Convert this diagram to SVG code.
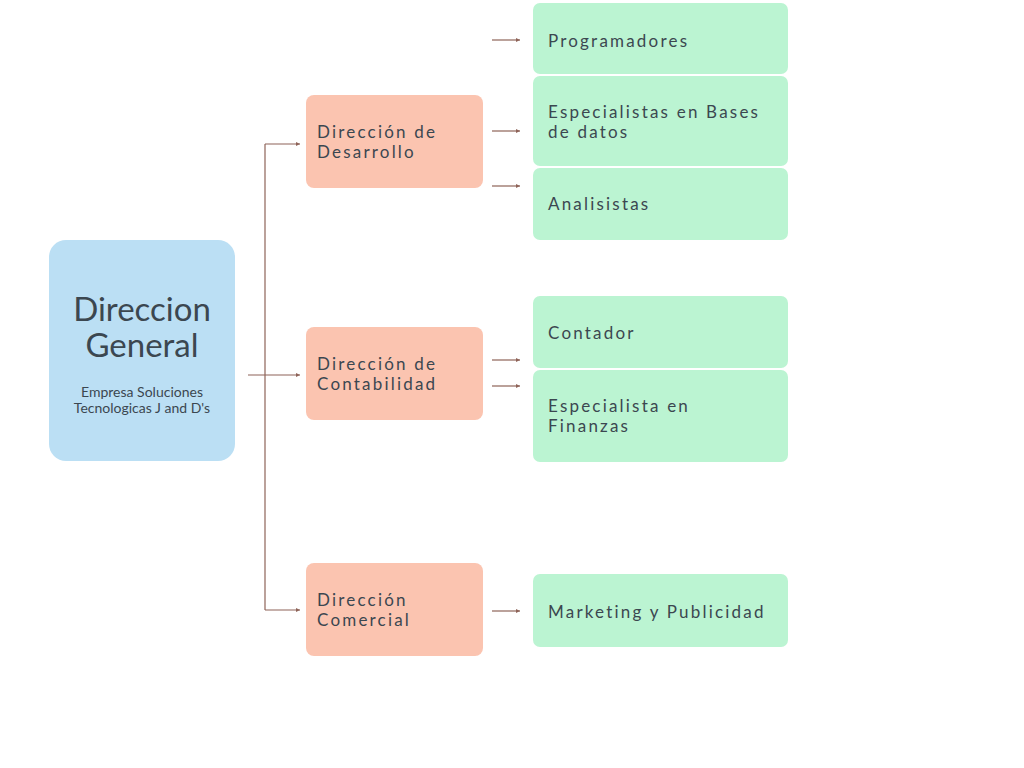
<svg xmlns="http://www.w3.org/2000/svg" width="1024" height="768" viewBox="0 0 1024 768">
<style>
.t{font-family:Lato,"Noto Sans",sans-serif;fill:#3b4750}
.lbl{font-size:17px;letter-spacing:2.2px}
.main{fill:#bbdff4}
.org{fill:#fbc4b0}
.grn{fill:#bbf4d2}
.c{stroke:#8e6358;stroke-width:1.2;fill:none}
</style>
<defs>
<marker id="ah" viewBox="0 0 6 6" refX="6" refY="3" markerWidth="4" markerHeight="4" orient="auto" markerUnits="userSpaceOnUse">
<path d="M0,0 L6,3 L0,6 z" fill="#8e6358"/>
</marker>
</defs>
<rect width="1024" height="768" fill="#ffffff"/>
<g id="connectors">
<path class="c" d="M265,144 V610"/>
<path class="c" d="M265,144 H300" marker-end="url(#ah)"/>
<path class="c" d="M248,375 H300" marker-end="url(#ah)"/>
<path class="c" d="M265,610 H300" marker-end="url(#ah)"/>
<path class="c" d="M492,40 H520" marker-end="url(#ah)"/>
<path class="c" d="M492,131 H520" marker-end="url(#ah)"/>
<path class="c" d="M492,186 H520" marker-end="url(#ah)"/>
<path class="c" d="M492,360 H520" marker-end="url(#ah)"/>
<path class="c" d="M492,386 H520" marker-end="url(#ah)"/>
<path class="c" d="M492,611 H520" marker-end="url(#ah)"/>
</g>
<g id="direccion-general">
<rect class="main" x="49" y="240" width="186" height="221" rx="17"/>
<text class="t" x="142" y="321" font-size="33" text-anchor="middle">Direccion</text>
<text class="t" x="142" y="357" font-size="33" text-anchor="middle">General</text>
<text class="t" x="142" y="397" font-size="14" text-anchor="middle">Empresa Soluciones</text>
<text class="t" x="142" y="413" font-size="14" text-anchor="middle">Tecnologicas J and D's</text>
</g>
<g id="dir-desarrollo">
<rect class="org" x="306" y="95" width="177" height="93" rx="8"/>
<text class="t lbl" x="317" y="138">Dirección de</text>
<text class="t lbl" x="317" y="158">Desarrollo</text>
</g>
<g id="dir-contabilidad">
<rect class="org" x="306" y="327" width="177" height="93" rx="8"/>
<text class="t lbl" x="317" y="370">Dirección de</text>
<text class="t lbl" x="317" y="390">Contabilidad</text>
</g>
<g id="dir-comercial">
<rect class="org" x="306" y="563" width="177" height="93" rx="8"/>
<text class="t lbl" x="317" y="606">Dirección</text>
<text class="t lbl" x="317" y="626">Comercial</text>
</g>
<g id="programadores">
<rect class="grn" x="533" y="3" width="255" height="71" rx="7"/>
<text class="t lbl" x="548" y="47">Programadores</text>
</g>
<g id="especialistas-bd">
<rect class="grn" x="533" y="76" width="255" height="90" rx="7"/>
<text class="t lbl" x="548" y="118">Especialistas en Bases</text>
<text class="t lbl" x="548" y="138">de datos</text>
</g>
<g id="analisistas">
<rect class="grn" x="533" y="168" width="255" height="72" rx="7"/>
<text class="t lbl" x="548" y="210">Analisistas</text>
</g>
<g id="contador">
<rect class="grn" x="533" y="296" width="255" height="72" rx="7"/>
<text class="t lbl" x="548" y="339">Contador</text>
</g>
<g id="especialista-finanzas">
<rect class="grn" x="533" y="370" width="255" height="92" rx="7"/>
<text class="t lbl" x="548" y="412">Especialista en</text>
<text class="t lbl" x="548" y="432">Finanzas</text>
</g>
<g id="marketing">
<rect class="grn" x="533" y="574" width="255" height="73" rx="7"/>
<text class="t lbl" x="548" y="618">Marketing y Publicidad</text>
</g>
</svg>
